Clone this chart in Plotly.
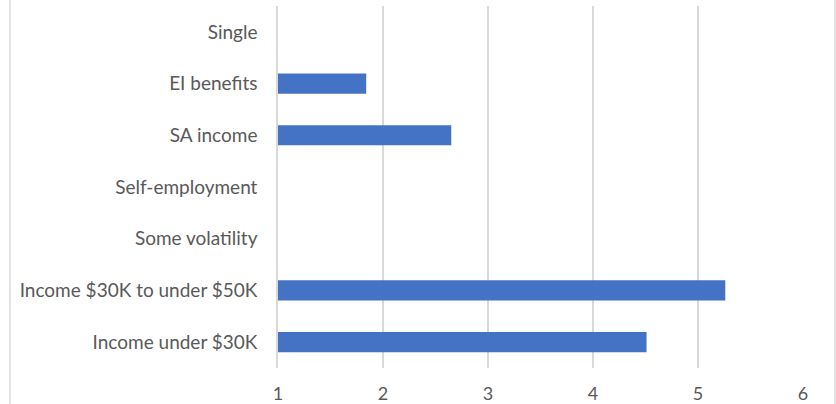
import plotly.graph_objects as go

categories = ["Single", "EI benefits", "SA income", "Self-employment",
              "Some volatility", "Income $30K to under $50K", "Income under $30K"]
values = [None, 1.84, 2.65, None, None, 5.26, 4.51]
x_ticks = [1, 2, 3, 4, 5, 6]

W, H = 836, 404
ml, mr, mt, mb = 278, 33, 6, 36

fig = go.Figure(go.Bar(
    y=categories, x=values, orientation="h",
    marker=dict(color="#4472C4", line=dict(width=0)),
))

fig.update_layout(
    width=W, height=H,
    margin=dict(l=ml, r=mr, t=mt, b=mb, autoexpand=False),
    paper_bgcolor="white", plot_bgcolor="white",
    bargap=0.61, showlegend=False,
    font=dict(family="Lato, 'Open Sans', sans-serif", size=18, color="#595959"),
)
fig.update_xaxes(
    range=[1, 6], tickvals=x_ticks, showgrid=True, gridcolor="#d9d9d9", gridwidth=1.5,
    zeroline=False, showline=False, ticks="", ticklabelstandoff=13,
    tickfont=dict(size=18, color="#595959"),
)
fig.update_yaxes(
    categoryorder="array", categoryarray=categories, autorange="reversed",
    showline=True, linecolor="#d9d9d9", linewidth=1.5, showgrid=False, ticks="",
    ticklabelstandoff=15, tickfont=dict(size=19, color="#595959"),
)

pw = W - ml - mr
for px in (10, 835):
    fig.add_shape(type="line", xref="paper", yref="paper",
                  x0=(px - ml) / pw, x1=(px - ml) / pw, y0=-mb / (H - mt - mb), y1=1 + mt / (H - mt - mb),
                  line=dict(color="#d9d9d9", width=1.5))

fig.write_html("out.html", config={"displayModeBar": False},
               post_script="document.body.style.margin='0';")
